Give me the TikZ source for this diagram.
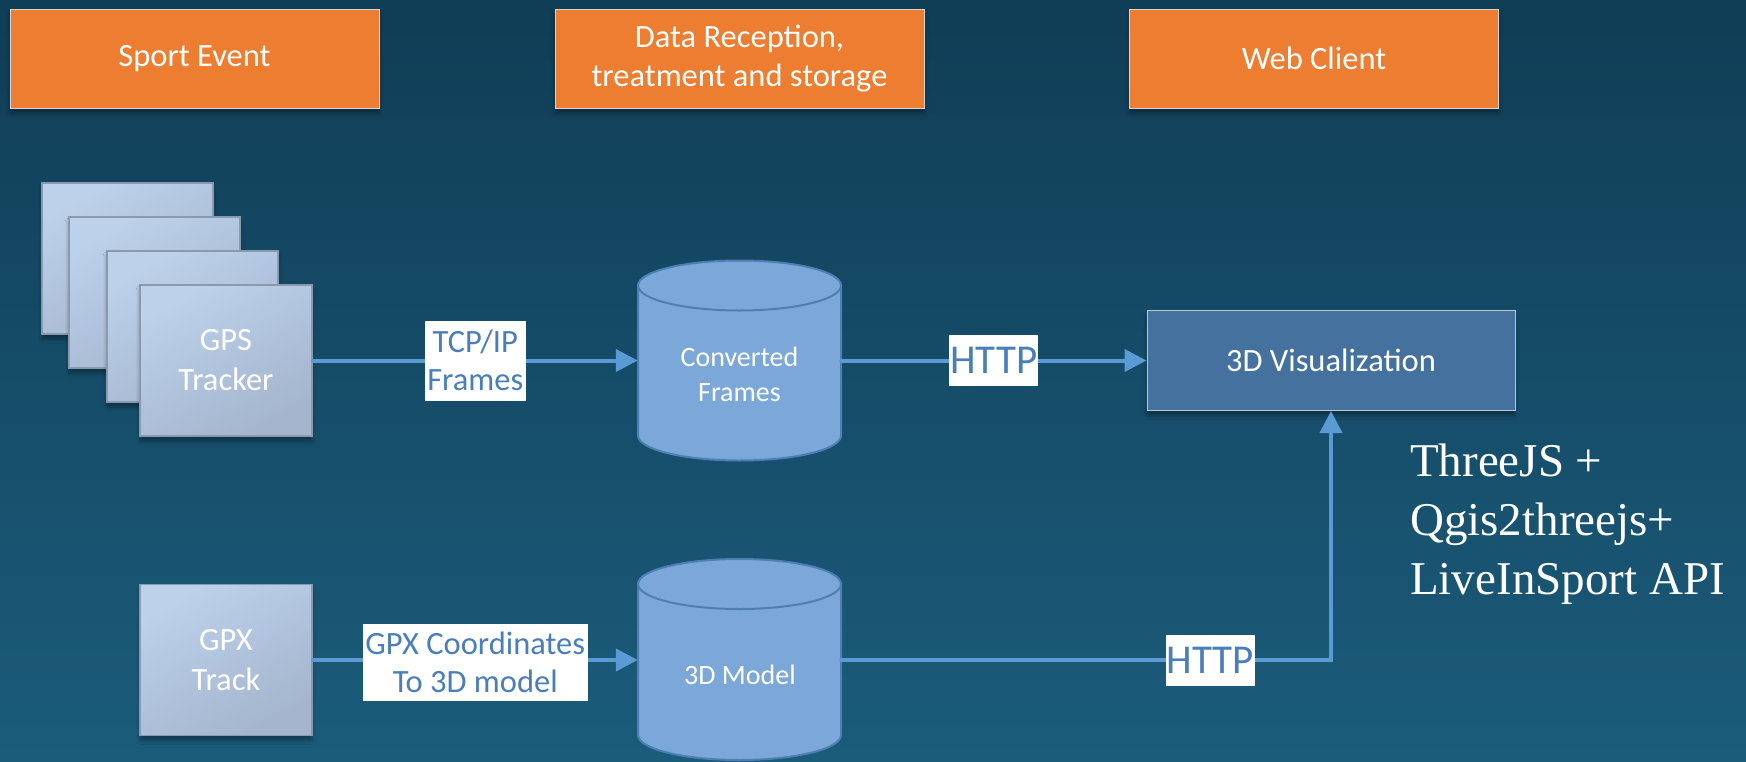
\documentclass[tikz,border=0pt]{standalone}
\usepackage{fontspec}
\setmainfont{Carlito}
\newfontfamily\timesfont{Liberation Serif}
\usetikzlibrary{arrows.meta,shadows.blur}
\definecolor{bgtop}{HTML}{103D56}
\definecolor{bgbot}{HTML}{1B5C7B}
\definecolor{hdrfill}{HTML}{ED7D31}
\definecolor{hdrline}{HTML}{D6D6D6}
\definecolor{gpstop}{HTML}{BDD1EB}
\definecolor{gpsbot}{HTML}{A4B5CD}
\definecolor{gpsline}{HTML}{8A9AAE}
\definecolor{cylfill}{HTML}{7BA8D9}
\definecolor{cylline}{HTML}{4E7FB4}
\definecolor{visfill}{HTML}{44719D}
\definecolor{visline}{HTML}{BFC7D0}
\definecolor{arrowc}{HTML}{5B9BD5}
\definecolor{lbltext}{HTML}{4A7EBB}
\begin{document}
\begin{tikzpicture}[x=1pt,y=-1pt,
  header/.style={draw=hdrline, line width=1pt, fill=hdrfill,
    minimum width=369pt, minimum height=99pt, inner sep=0pt, text=white,
    font=\fontsize{32.5}{39}\selectfont, align=center,
    blur shadow={shadow xshift=0pt, shadow yshift=-5pt, shadow opacity=35, shadow blur radius=4pt}},
  gpsbox/.style={draw=gpsline, line width=1.5pt, top color=gpstop, bottom color=gpsbot,
    shading angle=30, minimum width=172pt, minimum height=151pt, inner sep=0pt,
    text=white, font=\fontsize{32.5}{40}\selectfont, align=center,
    blur shadow={shadow xshift=0pt, shadow yshift=-5pt, shadow opacity=35, shadow blur radius=4pt}},
  cylbody/.style={fill=cylfill, draw=cylline, line width=2pt},
  cylnode/.style={minimum width=203pt, minimum height=202pt, inner sep=0pt},
  cyltext/.style={text=white, font=\fontsize{28}{35}\selectfont, align=center, inner sep=0pt},
  visbox/.style={draw=visline, line width=1pt, fill=visfill, minimum width=368pt,
    minimum height=100pt, inner sep=0pt, text=white, font=\fontsize{32.5}{39}\selectfont,
    blur shadow={shadow xshift=0pt, shadow yshift=-5pt, shadow opacity=35, shadow blur radius=4pt}},
  conn/.style={draw=arrowc, line width=4pt, line cap=round,
    -{Triangle[length=22pt, width=22pt]}},
  lbl/.style={fill=white, text=lbltext, inner sep=0pt, align=center,
    font=\fontsize{32.5}{38}\selectfont},
  httplbl/.style={fill=white, text=lbltext, inner sep=0pt, minimum width=89pt,
    minimum height=51pt, font=\fontsize{41}{45}\selectfont}
]
\useasboundingbox (0,0) rectangle (1746,761);
\shade[top color=bgtop, bottom color=bgbot] (0,0) rectangle (1746,761);

% headers
\node[header] (sport) at (194.5,58.5) {Sport Event};
\node[header] (data) at (739.5,58.5) {Data Reception,\\treatment and storage};
\node[header] (web) at (1314,58.5) {Web Client};

% GPS stack
\node[gpsbox, minimum width=171pt] (gps1) at (127.5,258.5) {};
\node[gpsbox, minimum width=171pt] (gps2) at (154.5,292.5) {};
\node[gpsbox, minimum width=171pt] (gps3) at (192.5,326.5) {};
\node[gpsbox] (gps4) at (226,360.5) {GPS\\Tracker};

% GPX
\node[gpsbox] (gpx) at (226,660) {GPX\\Track};

% cylinders
\filldraw[cylbody] (638,285.5) -- (638,435.5)
  arc[start angle=180, end angle=0, x radius=101.5, y radius=25] -- (841,285.5) -- cycle;
\filldraw[cylbody] (739.5,285.5) ellipse[x radius=101.5, y radius=25];
\node[cylnode] (cyl1) at (739.5,360.5) {};
\node[cyltext] (cyl1txt) at (739.5,374.5) {Converted\\Frames};

\filldraw[cylbody] (638,584) -- (638,735)
  arc[start angle=180, end angle=0, x radius=101.5, y radius=25] -- (841,584) -- cycle;
\filldraw[cylbody] (739.5,584) ellipse[x radius=101.5, y radius=25];
\node[cylnode] (cyl2) at (739.5,660) {};
\node[cyltext] (cyl2txt) at (740,675) {3D Model};

% visualization
\node[visbox] (vis) at (1331,360.5) {3D Visualization};

% connectors
\draw[conn] (gps4.east) -- (cyl1.west)
  node[lbl, minimum width=101pt, minimum height=80pt, pos=0.5] (lbl1) {TCP/IP\\Frames};
\draw[conn] (cyl1.east) -- (vis.west)
  node[httplbl, pos=0.5] (lbl2) {HTTP};
\draw[conn] (gpx.east) -- (cyl2.west)
  node[lbl, minimum width=225pt, minimum height=77pt, pos=0.5, yshift=-2pt] (lbl3) {GPX Coordinates\\To 3D model};
\draw[conn] (cyl2.east) -| (vis.south)
  node[httplbl, pos=0.377] (lbl4) {HTTP};

% side text
\node[anchor=north west, align=left, inner sep=0pt, text=white,
  font=\timesfont\fontsize{47}{59}\selectfont] (tech) at (1410,444)
  {ThreeJS +\\Qgis2threejs+\\LiveInSport API};
\end{tikzpicture}
\end{document}
